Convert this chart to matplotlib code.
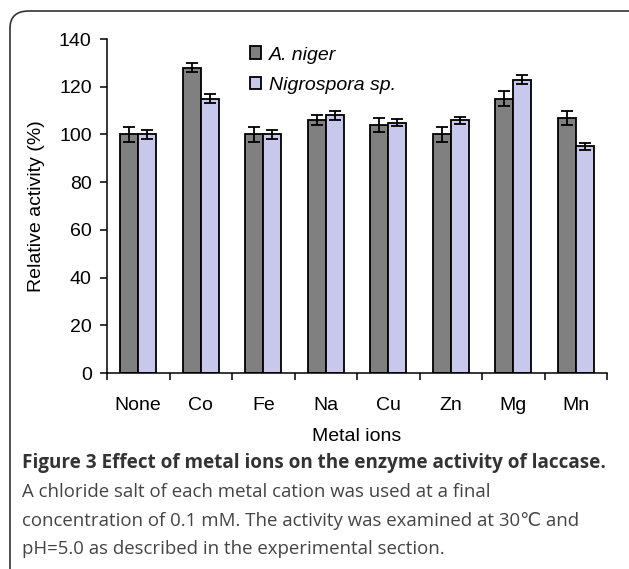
import numpy as np
import matplotlib
matplotlib.use('Agg')
import matplotlib.pyplot as plt
from matplotlib.patches import FancyBboxPatch

plt.rcParams['font.family'] = ['Liberation Sans', 'DejaVu Sans']

ions = ['None', 'Co', 'Fe', 'Na', 'Cu', 'Zn', 'Mg', 'Mn']
niger = [100, 128, 100, 106, 104, 100, 115, 107]
niger_err = [3, 2, 3, 2, 3, 3, 3, 3]
nigro = [100, 115, 100, 108, 105, 106, 123, 95]
nigro_err = [2, 2, 2, 2, 1.5, 1.5, 2, 1.5]
yticks = [0, 20, 40, 60, 80, 100, 120, 140]

W, H = 629, 569
fig = plt.figure(figsize=(W / 100, H / 100), dpi=100)
ax = fig.add_axes([107 / W, 1 - 373 / H, 500 / W, 334 / H])

ind = np.arange(len(ions)) + 0.5
width = 0.29
err_kw = dict(ecolor='k', elinewidth=1.3, capsize=4, capthick=1.3)
b1 = ax.bar(ind - width / 2, niger, width, yerr=niger_err, color='#808080',
            edgecolor='k', linewidth=1.3, error_kw=err_kw, label='A. niger')
b2 = ax.bar(ind + width / 2, nigro, width, yerr=nigro_err, color='#c8c8ec',
            edgecolor='k', linewidth=1.3, error_kw=err_kw, label='Nigrospora sp.')

ax.set_xlim(0, len(ions))
ax.set_ylim(0, 140)
ax.set_yticks(yticks)
ax.tick_params(axis='y', labelsize=14, length=5, width=1.1, pad=6)
# category boundaries get the tick marks, names sit between them
ax.set_xticks(np.arange(len(ions) + 1))
ax.set_xticklabels([])
ax.set_xticks(ind, minor=True)
ax.set_xticklabels(ions, minor=True, fontsize=14)
ax.tick_params(axis='x', which='major', length=5, width=1.1)
ax.tick_params(axis='x', which='minor', length=0, pad=17)
for s in ['top', 'right']:
    ax.spines[s].set_visible(False)
for s in ['left', 'bottom']:
    ax.spines[s].set_linewidth(1.1)

ax.set_ylabel('Relative activity (%)', fontsize=14)
ax.yaxis.set_label_coords(-0.124, 0.5)
ax.set_xlabel('Metal ions', fontsize=14)
ax.xaxis.set_label_coords(0.5, -0.19)
ax.xaxis.label.set_va('center')

leg = ax.legend(loc='upper left', bbox_to_anchor=(0.25, 1.03), frameon=False,
                prop={'size': 14, 'style': 'italic'}, handlelength=0.6,
                handleheight=0.6, handletextpad=0.4, labelspacing=0.7)

# caption box
box = FancyBboxPatch((10 / W, -0.05), 1.2, 1 - 11 / H + 0.05,
                     boxstyle='round,pad=0,rounding_size=0.03',
                     transform=fig.transFigure, fill=False,
                     edgecolor='#333333', linewidth=1.2, clip_on=False)
fig.patches.append(box)

cap_font = ['Open Sans', 'DejaVu Sans']
fig.text(22 / W, 1 - 463 / H,
         'Figure 3 Effect of metal ions on the enzyme activity of laccase.',
         fontsize=13.6, fontweight='bold', color='#333333', family=cap_font,
         va='center')
lines = ['A chloride salt of each metal cation was used at a final',
         'concentration of 0.1 mM. The activity was examined at 30\u2103 and',
         'pH=5.0 as described in the experimental section.']
for i, t in enumerate(lines):
    fig.text(22 / W, 1 - (492 + 28.5 * i) / H, t, fontsize=13.4,
             color='#444444', family=cap_font, va='center')

fig.savefig('out.png', dpi=100)
